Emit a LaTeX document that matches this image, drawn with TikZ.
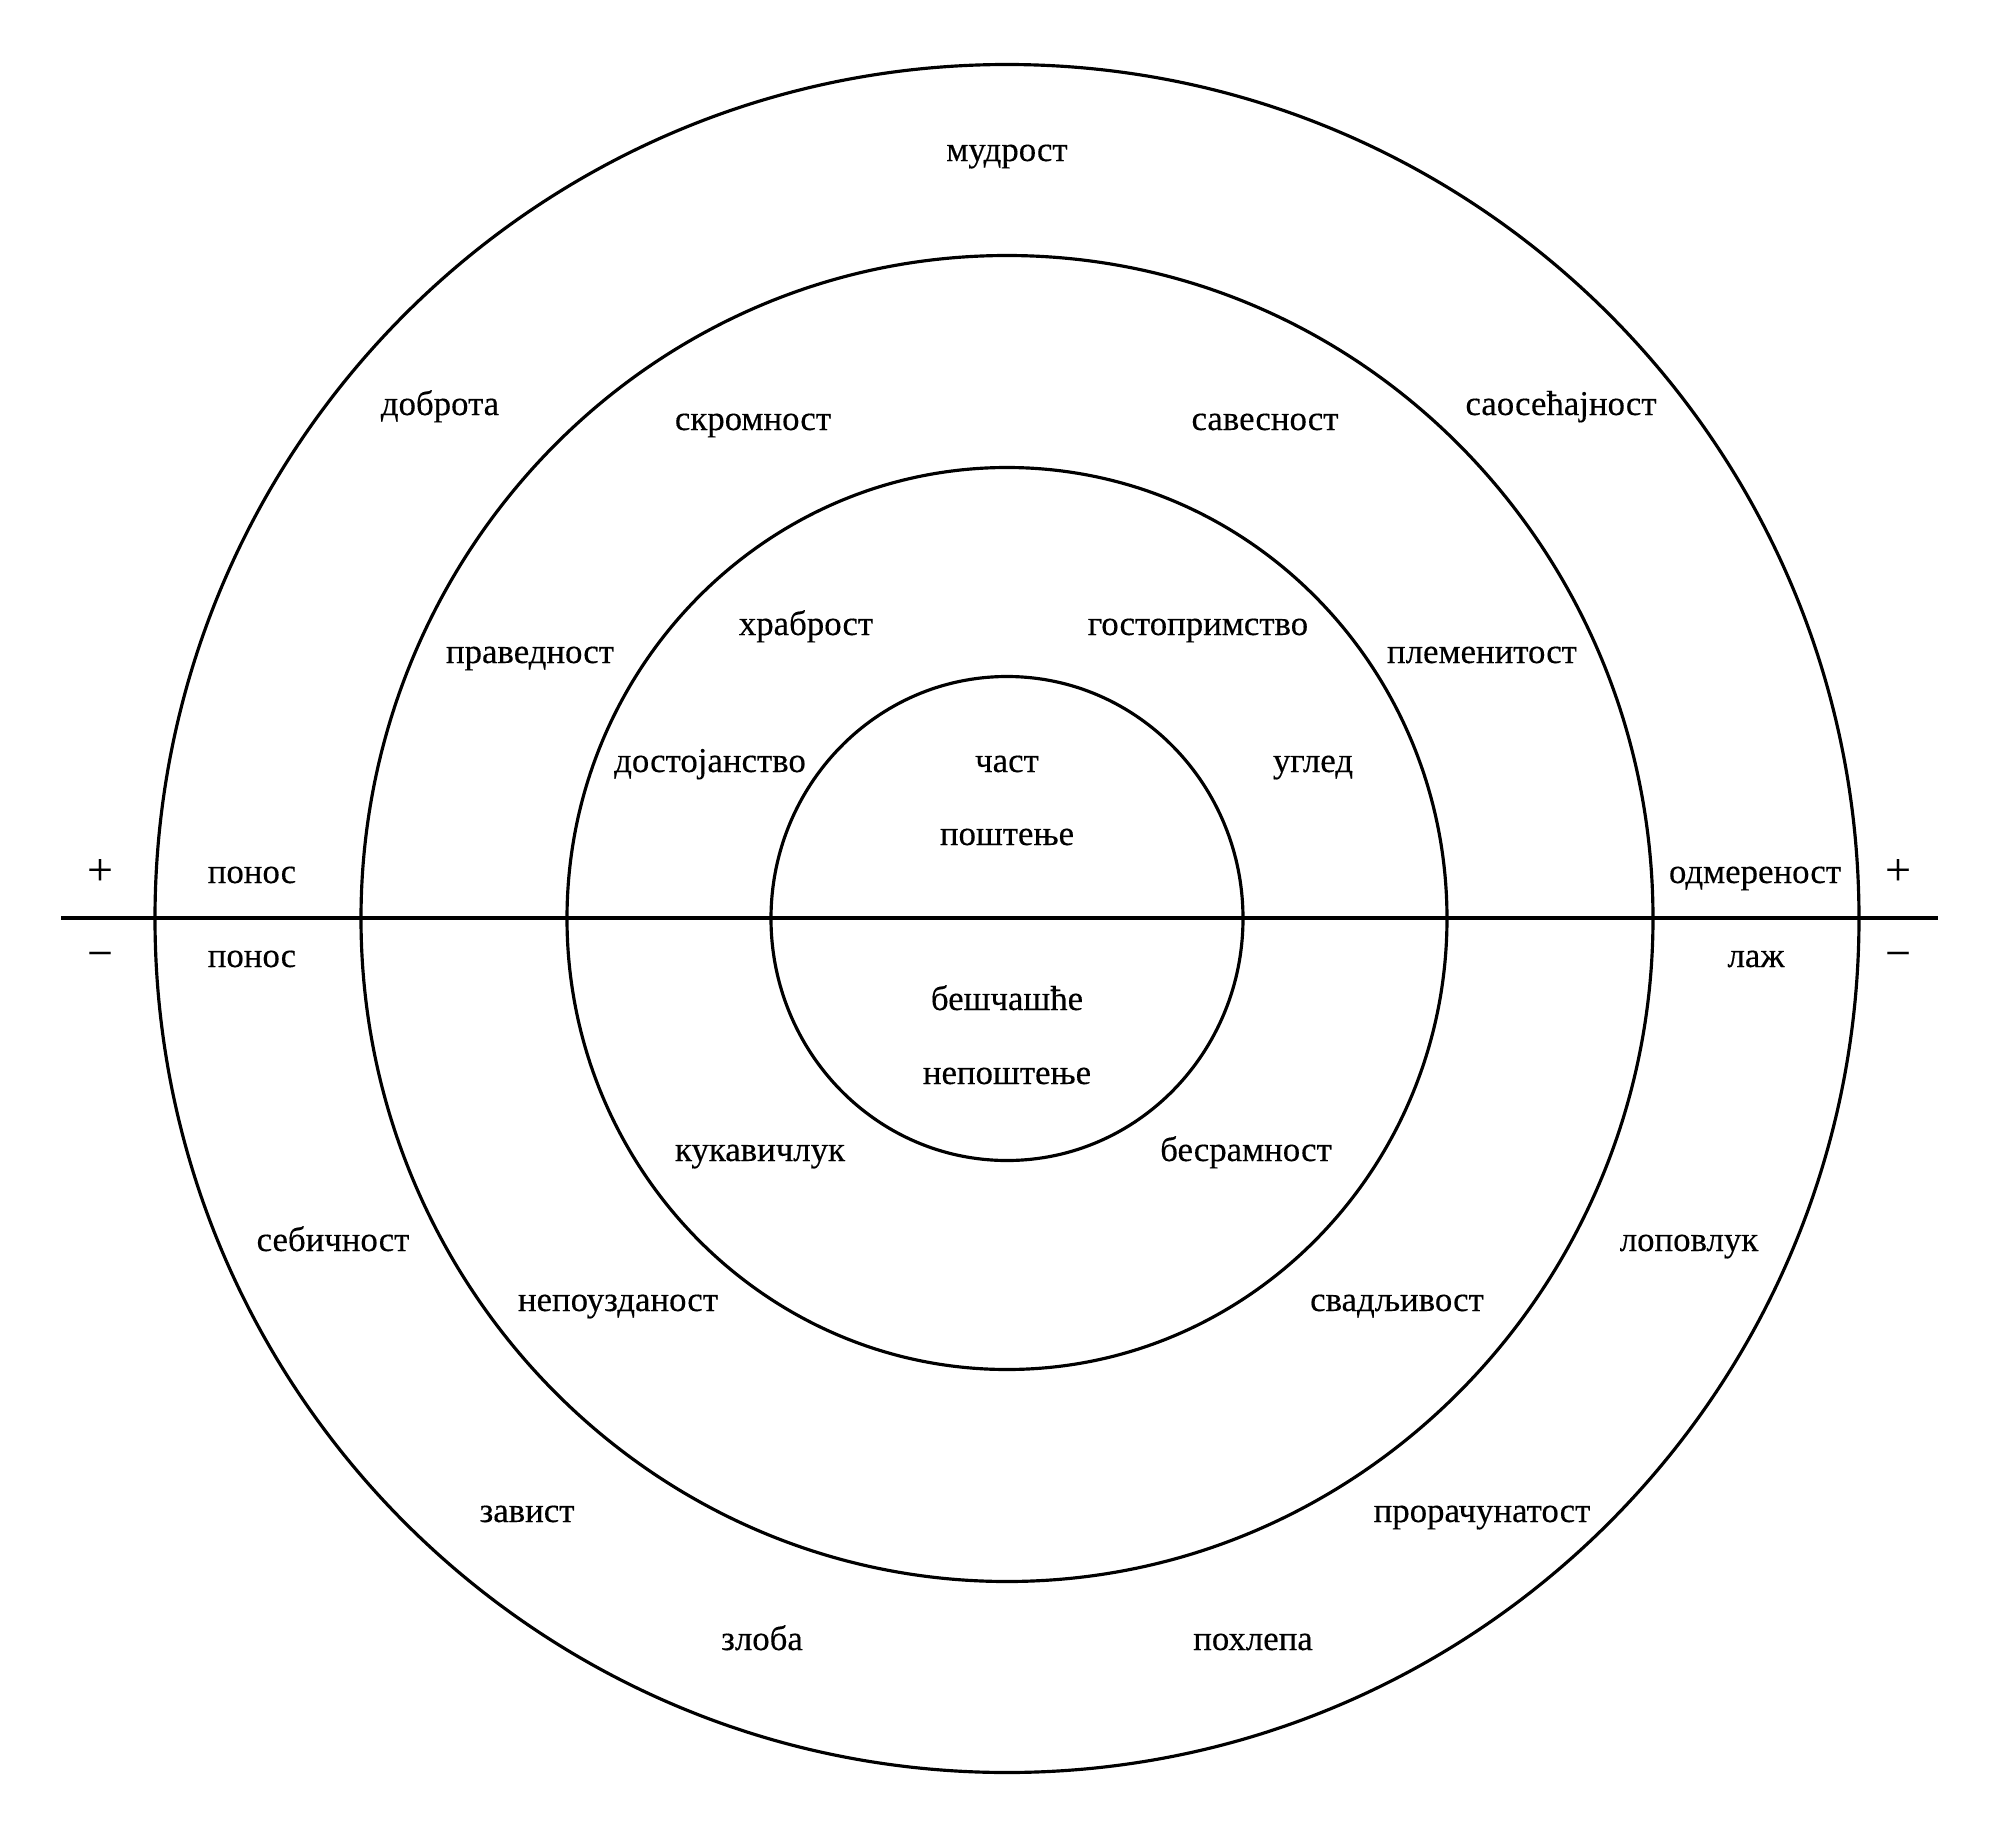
\documentclass[tikz,border=0pt]{standalone}
\usepackage{fontspec}
\setmainfont{Liberation Serif}[FakeBold=0.3]
\tikzset{
	word/.style={anchor=base, inner sep=0pt, font=\fontsize{9.9pt}{11pt}\selectfont},
	sign/.style={inner sep=0pt, font=\fontsize{13pt}{14pt}\selectfont},
	ring/.style={line width=0.9pt}
}

\begin{document}
\begin{tikzpicture}[x=0.01cm, y=-0.01cm]
        \useasboundingbox (0, 0) rectangle (1996, 1833);
        \coordinate (centre) at (1007, 918.5);
        \coordinate (left) at (61, 918);
        \coordinate (right) at (1938, 918);
        \draw [ring] (centre) ellipse [x radius=852, y radius=854];
        \draw [ring] (centre) ellipse [x radius=646, y radius=663];
        \draw [ring] (centre) ellipse [x radius=440, y radius=451];
        \draw [ring] (centre) ellipse [x radius=236, y radius=242];
        \draw [ring] (left) -- (right);
        % signs
        \node[sign] (plusL) at (100, 872) {+};
        \node[sign] (plusR) at (1898, 872) {+};
        \node[sign] (minusL) at (100, 960) {−};
        \node[sign] (minusR) at (1898, 960) {−};
        % upper half
        \node[word] (mudrost) at (1007, 161) {мудрост};
        \node[word] (dobrota) at (440, 415) {доброта};
        \node[word] (saosecajnost) at (1561, 415) {саосећајност};
        \node[word] (skromnost) at (753, 430) {скромност};
        \node[word] (savesnost) at (1265, 430) {савесност};
        \node[word] (hrabrost) at (806, 635) {храброст};
        \node[word] (gostoprimstvo) at (1198, 635) {гостопримство};
        \node[word] (pravednost) at (530, 663) {праведност};
        \node[word] (plemenitost) at (1482, 663) {племенитост};
        \node[word] (dostojanstvo) at (710, 772) {достојанство};
        \node[word] (cast) at (1007, 772) {част};
        \node[word] (ugled) at (1313, 772) {углед};
        \node[word] (postenje) at (1007, 845) {поштење};
        \node[word] (ponosP) at (252, 883) {понос};
        \node[word] (odmerenost) at (1755, 883) {одмереност};
        % lower half
        \node[word] (ponosM) at (252, 967) {понос};
        \node[word] (laz) at (1756, 967) {лаж};
        \node[word] (bescasce) at (1007, 1010) {бешчашће};
        \node[word] (nepostenje) at (1007, 1084) {непоштење};
        \node[word] (kukavicluk) at (760, 1161) {кукавичлук};
        \node[word] (besramnost) at (1246, 1161) {бесрамност};
        \node[word] (sebicnost) at (333, 1251) {себичност};
        \node[word] (lopovluk) at (1689, 1251) {лоповлук};
        \node[word] (nepouzdanost) at (618, 1311) {непоузданост};
        \node[word] (svadljivost) at (1397, 1311) {свадљивост};
        \node[word] (zavist) at (527, 1522) {завист};
        \node[word] (proracunatost) at (1482, 1522) {прорачунатост};
        \node[word] (zloba) at (762, 1650) {злоба};
        \node[word] (pohlepa) at (1253, 1650) {похлепа};
    \end{tikzpicture}
\end{document}
